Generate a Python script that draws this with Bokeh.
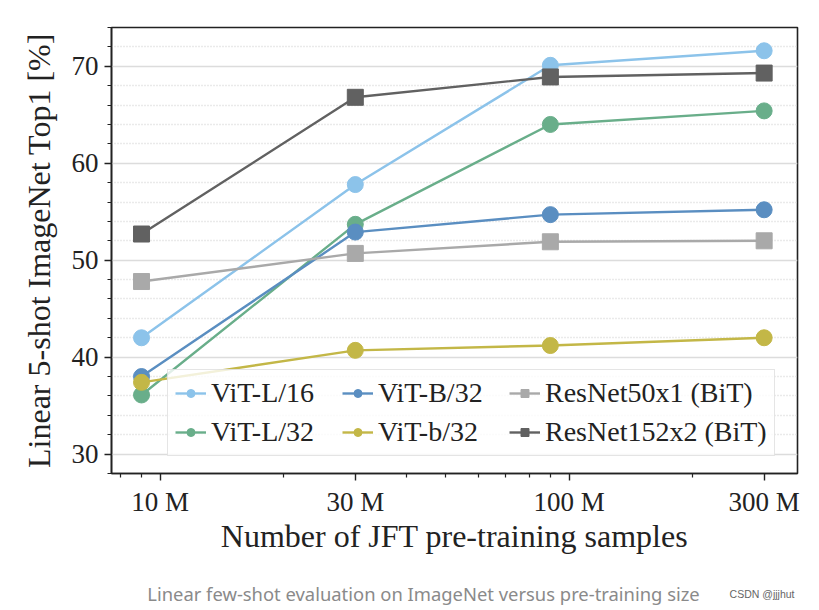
from bokeh.plotting import figure
from bokeh.models import FixedTicker, Legend, LegendItem, Label
from bokeh.layouts import column
from bokeh.embed import file_html
from bokeh.resources import INLINE

# ---- data ----
samples = [9e6, 30e6, 90e6, 300e6]
vit_l16 = [42.0, 57.8, 70.1, 71.6]
vit_l32 = [36.1, 53.7, 64.0, 65.4]
vit_b32 = [38.0, 52.9, 54.7, 55.2]
vit_b32_small = [37.4, 40.7, 41.2, 42.0]
resnet50x1 = [47.8, 50.7, 51.9, 52.0]
resnet152x2 = [52.7, 66.8, 68.9, 69.3]

series_names = ["ViT-L/16", "ViT-L/32", "ViT-B/32", "ViT-b/32",
                "ResNet50x1 (BiT)", "ResNet152x2 (BiT)"]
series_values = [vit_l16, vit_l32, vit_b32, vit_b32_small, resnet50x1, resnet152x2]
series_colors = ["#8cc3ea", "#69ae8a", "#5a8ec1", "#c3b747", "#a9a9a9", "#616161"]
series_markers = ["circle", "circle", "circle", "circle", "square", "square"]

x_tick_values = [10e6, 30e6, 100e6, 300e6]
x_tick_labels = ["10 M", "30 M", "100 M", "300 M"]
x_minor_values = [8e6, 9e6, 20e6, 40e6, 50e6, 60e6, 70e6, 80e6, 90e6, 200e6]
y_tick_values = [30, 40, 50, 60, 70]
y_minor_values = [28, 32, 34, 36, 38, 42, 44, 46, 48, 52, 54, 56, 58, 62, 64, 66, 68, 72, 74]

x_label = "Number of JFT pre-training samples"
y_label = "Linear 5-shot ImageNet Top1 [%]"
caption = "Linear few-shot evaluation on ImageNet versus pre-training size"
watermark = "CSDN @jjjhut"

SERIF = "Liberation Serif"

p = figure(
    x_axis_type="log",
    x_range=(7.6e6, 3.62e8),
    y_range=(28, 74),
    frame_width=686, frame_height=446,
    min_border_left=111, min_border_right=22, min_border_top=27, min_border_bottom=102,
    output_backend="svg", toolbar_location=None,
    background_fill_color="white", border_fill_color="white",
)

p.outline_line_color = "#222222"
p.outline_line_width = 1.6
p.outline_line_alpha = 1.0

# grid
p.xgrid.visible = False
p.ygrid.ticker = FixedTicker(ticks=y_tick_values, minor_ticks=y_minor_values)
p.ygrid.grid_line_color = "#dcdcdc"
p.ygrid.grid_line_width = 1.6
p.ygrid.minor_grid_line_color = "#d4d4d4"
p.ygrid.minor_grid_line_dash = "1 2"
p.ygrid.minor_grid_line_width = 1.4

# axes
xa = p.xaxis[0]
xa.ticker = FixedTicker(ticks=x_tick_values, minor_ticks=x_minor_values)
xa.major_label_overrides = {int(v): lab for v, lab in zip(x_tick_values, x_tick_labels)}
ya = p.yaxis[0]
ya.ticker = FixedTicker(ticks=y_tick_values, minor_ticks=y_minor_values)

for ax in (xa, ya):
    ax.axis_line_color = "#222222"
    ax.axis_line_width = 1.6
    ax.major_tick_line_color = "#222222"
    ax.minor_tick_line_color = "#222222"
    ax.major_tick_line_width = 1.4
    ax.minor_tick_line_width = 1.2
    ax.major_tick_in = 0
    ax.major_tick_out = 7
    ax.minor_tick_in = 0
    ax.minor_tick_out = 4
    ax.major_label_text_font = SERIF
    ax.major_label_text_font_size = "27px"
    ax.major_label_text_color = "#222222"
    ax.axis_label_text_font = SERIF
    ax.axis_label_text_font_size = "32px"
    ax.axis_label_text_font_style = "normal"
    ax.axis_label_text_color = "#222222"
    ax.major_label_standoff = 6

xa.axis_label = x_label
ya.axis_label = y_label
xa.axis_label_standoff = -2
ya.axis_label_standoff = 12

items = []
for name, vals, col, mk in zip(series_names, series_values, series_colors, series_markers):
    ln = p.line(samples, vals, line_color=col, line_width=2.4)
    sc = p.scatter(samples, vals, marker=mk, size=16, fill_color=col, line_color=col)
    items.append(LegendItem(label=name, renderers=[ln, sc]))

legend = Legend(
    items=items,
    location=(56, 17),
    orientation="vertical",
    nrows=2,
    label_text_font=SERIF,
    label_text_font_size="28px",
    label_text_color="#222222",
    glyph_width=31,
    glyph_height=20,
    label_standoff=5,
    label_width=124,
    spacing=7,
    padding=7,
    margin=0,
    background_fill_color="white",
    background_fill_alpha=0.8,
    border_line_color="#cccccc",
    border_line_width=1.2,
)
p.add_layout(legend, "center")

# caption strip below the chart (same borders as the chart so the column aligns)
cap = figure(frame_width=686, frame_height=35, x_range=(0, 1), y_range=(0, 1),
             x_axis_location=None, y_axis_location=None,
             min_border_left=111, min_border_right=22, min_border_top=0, min_border_bottom=0,
             output_backend="svg", toolbar_location=None,
             background_fill_color="white", border_fill_color="white")
cap.grid.visible = False
cap.outline_line_color = None
cap.add_layout(Label(x=312, y=17, x_units="screen", y_units="screen", text=caption,
                     text_font="Noto Sans", text_font_size="18.4px", text_color="#8a8a8a",
                     text_align="center", text_baseline="middle"))
cap.add_layout(Label(x=683, y=17, x_units="screen", y_units="screen", text=watermark,
                     text_font="Liberation Sans", text_font_size="10.5px", text_color="#666666",
                     text_align="right", text_baseline="middle"))

layout = column(p, cap, spacing=0)
open("out.html", "w").write(file_html(layout, INLINE))
